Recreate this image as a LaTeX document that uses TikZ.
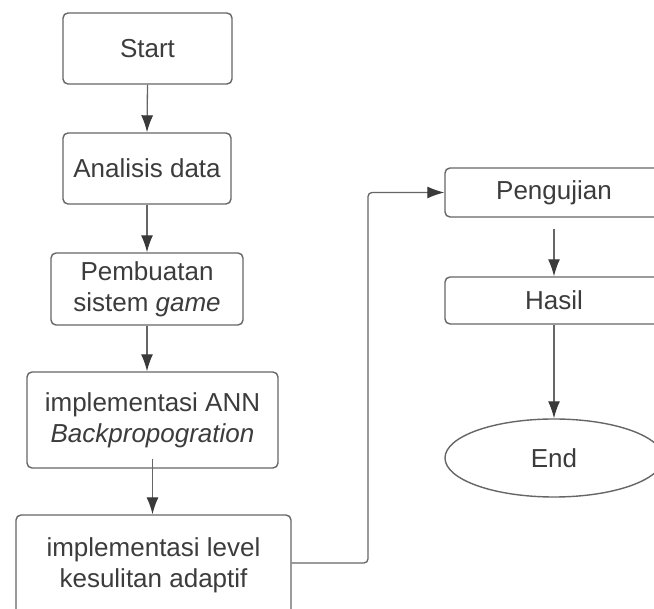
\documentclass[tikz,border=0pt]{standalone}
\usepackage{fontspec}
\setmainfont{Liberation Sans}
\usetikzlibrary{arrows.meta,shapes.geometric}
\definecolor{inkgray}{HTML}{3C3C3C}
\definecolor{linegray}{HTML}{666666}
\definecolor{tipgray}{HTML}{3A3A3A}
\tikzset{
  stepbox/.style={draw=linegray, line width=1.4pt, rounded corners=5pt, fill=white,
    text=inkgray, align=center, inner sep=0pt,
    font=\fontsize{26}{31}\selectfont},
  endnode/.style={draw=linegray, line width=1.4pt, ellipse, fill=white,
    text=inkgray, inner sep=0pt, font=\fontsize{26}{31}\selectfont},
  flow/.style={draw=linegray, line width=1.3pt,
    -{Latex[length=17pt,width=12pt,color=tipgray]}},
}
\begin{document}
\begin{tikzpicture}[x=1pt,y=-1pt]
  \useasboundingbox (0,0) rectangle (654,609);
  \clip (0,0) rectangle (654,609);

  % left column
  \node[stepbox, minimum width=169pt, minimum height=71pt] (start) at (147.5,48.5) {Start};
  \node[stepbox, minimum width=168pt, minimum height=71pt] (anal) at (147,168.5) {Analisis data};
  \node[stepbox, minimum width=192pt, minimum height=72pt] (game) at (147,289) {Pembuatan\\sistem \textit{game}};
  \node[stepbox, minimum width=251pt, minimum height=96pt] (ann) at (152.5,420) {implementasi ANN\\\textit{Backpropogration}};
  \node[stepbox, minimum width=275pt, minimum height=100pt] (level) at (153.5,565) {implementasi level\\kesulitan adaptif};

  % right column
  \node[stepbox, minimum width=218pt, minimum height=49pt] (uji) at (554,192.5) {Pengujian};
  \node[stepbox, minimum width=218pt, minimum height=47pt] (hasil) at (554,300.5) {Hasil};
  \node[endnode, minimum width=218pt, minimum height=78pt] (end) at (554,458) {End};

  % connectors
  \draw[flow] (start.south) -- (anal.north);
  \draw[flow] (anal.south) -- (anal.south |- game.north);
  \draw[flow] (game.south) -- (game.south |- ann.north);
  \draw[flow] ([yshift=10pt]ann.south) -- (ann.south |- level.north);
  \coordinate (turn) at (368,563);
  \draw[flow, rounded corners=4pt] (level.east |- turn) -- (turn) -- (turn |- uji.west) -- (uji.west);
  \draw[flow] ([yshift=-11pt]uji.south) -- (hasil.north);
  \draw[flow] (hasil.south) -- (end.north);
\end{tikzpicture}
\end{document}
